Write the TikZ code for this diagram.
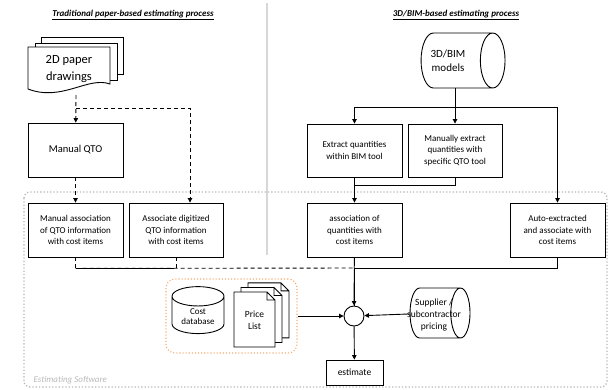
\documentclass[tikz,border=0pt]{standalone}
\usepackage{fontspec}
\setmainfont{Carlito}
\usetikzlibrary{shapes,arrows,positioning,shapes.geometric,arrows.meta}
\definecolor{dividergray}{RGB}{215,215,215}
\definecolor{softgray}{RGB}{185,185,185}
\definecolor{dotorange}{RGB}{246,170,110}

\begin{document}
\begin{tikzpicture}[x=1pt,y=-1pt,
    >={Triangle[length=4.5pt,width=4.5pt]},
    every node/.style={font=\fontsize{9}{11.6}\selectfont},
    stepbox/.style={draw, line width=0.9pt, align=center, inner sep=1pt},
    flow/.style={line width=0.9pt},
    paperflow/.style={line width=0.9pt, dash pattern=on 4pt off 3pt},
    sheet/.style={draw, fill=white, line width=0.9pt},
    headline/.style={font=\fontsize{9}{11}\selectfont\bfseries\itshape, text=black}]
    \useasboundingbox (0,0) rectangle (609,389);

    % frames
    \draw[dividergray, line width=2.5pt] (267,3) -- (267,255);
    \draw[softgray, line width=1.3pt, dotted, rounded corners=6pt] (24,192) rectangle (607,387);
    \node[anchor=west, text=softgray, font=\fontsize{9}{11}\selectfont\itshape] (softlabel) at (30,380) {Estimating Software};

    \node[headline] (paperhead) at (133,15) {\underline{Traditional paper-based estimating process}};
    \node[headline] (bimhead) at (456,15) {\underline{3D/BIM-based estimating process}};

    % 2D paper drawings
    \draw[sheet] (41,37) rectangle (123,74);
    \draw[sheet] (35,43) rectangle (117,80);
    \draw[sheet] (28,89) -- (28,47) -- (110,47) -- (110,84) .. controls (88,76) and (62,102) .. cycle;
    \node[font=\fontsize{12.5}{16.5}\selectfont, align=center] (paper) at (69,69) {2D paper\\drawings};
    \coordinate (paperbot) at (76,95);
    \coordinate (paperfork) at (76,108);

    % left column
    \node[stepbox, minimum width=95, minimum height=54, font=\fontsize{10.5}{12}\selectfont] (mqto) at (75.5,150) {Manual QTO};
    \node[stepbox, minimum width=95, minimum height=54] (massoc) at (75.5,230) {Manual association\\of QTO information\\with cost items};
    \node[stepbox, minimum width=94, minimum height=54] (dassoc) at (176,230) {Associate digitized\\QTO information\\with cost items};

    % right column
    \node[cylinder, draw, line width=0.9pt, aspect=0.95, minimum width=55, minimum height=84, inner sep=1pt] (bim) at (455,60.5) {\rule{0pt}{24pt}};
    \node[align=center, font=\fontsize{11}{13.5}\selectfont] (bimtext) at (448,60.5) {3D/BIM\\models};
    \node[stepbox, minimum width=95, minimum height=53] (extract) at (354.5,150.5) {Extract quantities\\within BIM tool};
    \node[stepbox, minimum width=94, minimum height=53] (manual) at (455,150.5) {Manually extract\\quantities with\\specific QTO tool};
    \node[stepbox, minimum width=95, minimum height=54] (assocq) at (354.5,230) {association of\\quantities with\\cost items};
    \node[stepbox, minimum width=95, minimum height=54] (auto) at (557.5,230) {Auto-exctracted\\and associate with\\cost items};

    % price sources
    \node[draw=dotorange, line width=1.1pt, dotted, rounded corners=9pt, minimum width=131, minimum height=74] (prices) at (231.5,316) {};
    \node[cylinder, draw, line width=0.9pt, shape border rotate=90, aspect=0.55, minimum width=52, minimum height=47, align=center, inner sep=1pt] (costdb) at (198,316.5) {\raisebox{-3pt}{\shortstack{Cost\\database}}};
    \foreach \d in {14,7,0}
        \draw[sheet, shift={(\d,-\d*0.65)}] (234,292) -- (267,292) -- (275,300) -- (275,347) -- (234,347) -- cycle
            (267,292) -- (267,300) -- (275,300);
    \node[align=center, font=\fontsize{9.5}{12}\selectfont] (pricelist) at (254.5,320) {Price\\List};

    \node[cylinder, draw, line width=0.9pt, aspect=0.8, minimum width=50, minimum height=60, inner sep=0pt] (supp) at (435,313) {\rule{0pt}{24pt}};
    \node[align=center, font=\fontsize{9.5}{11.6}\selectfont] (supptext) at (434,315) {Supplier /\\subcontractor\\pricing};

    \node[circle, draw, line width=0.9pt, minimum size=20, inner sep=0pt] (sum) at (354,316) {};
    \node[stepbox, minimum width=57, minimum height=25, font=\fontsize{9.5}{11}\selectfont] (estimate) at (354.5,372.5) {estimate};

    % connectors, paper side
    \draw[paperflow, ->] (paperbot) -- (mqto);
    \draw[paperflow, ->] (paperfork) -| ([xshift=14pt]dassoc.north);
    \draw[paperflow, ->] (mqto) -- (massoc);
    \draw[paperflow] (massoc.south) -- ++(0,11) -| (dassoc.south);
    \draw[paperflow] (massoc.south) ++(0,11) -- (sum.north |- 0,268);

    % connectors, BIM side
    \draw[flow, ->] (bim) -- (manual);
    \draw[flow, ->] (bim.south |- 0,107) -| (extract);
    \draw[flow, ->] (bim.south |- 0,107) -| (auto);
    \draw[flow, ->] (extract) -- (assocq);
    \draw[flow] (manual.south) -- ++(0,8) -| (extract.south);
    \draw[flow, ->] (assocq) -- (sum);
    \draw[flow] (auto.south) -- ++(0,11) -| (sum.north);
    \draw[flow, ->] (prices.east) -- (sum);
    \draw[flow, ->] (supp) -- (sum);
    \draw[flow, ->] (sum) -- (estimate);
\end{tikzpicture}
\end{document}
